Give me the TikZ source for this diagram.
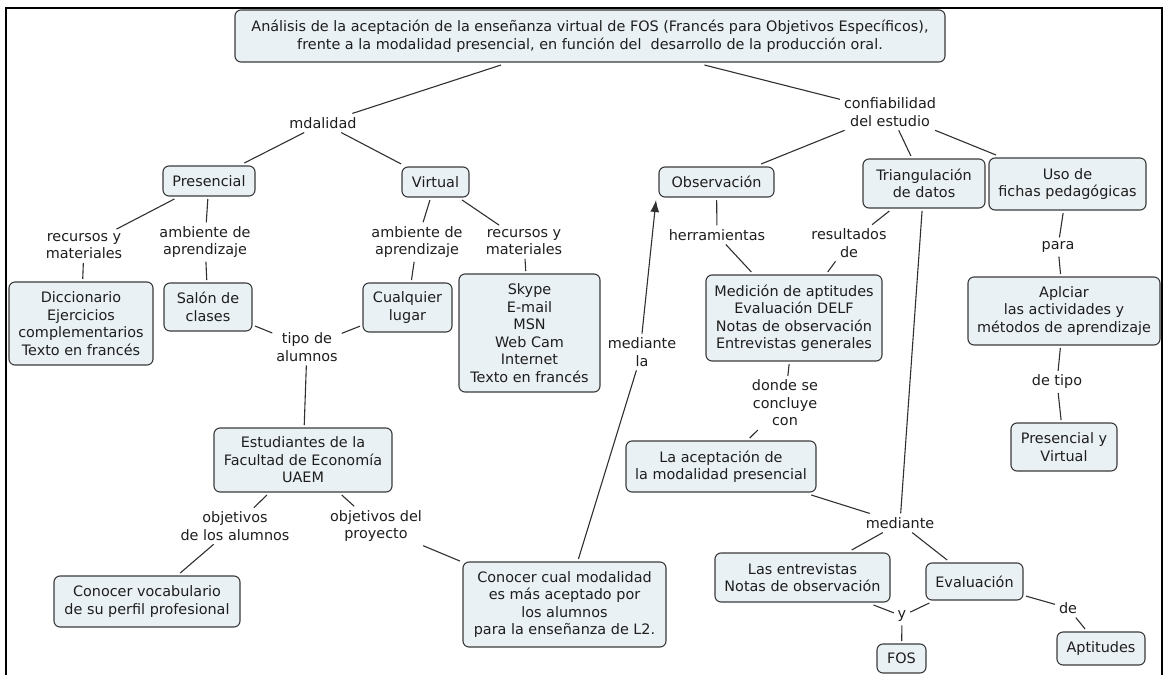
\documentclass[tikz,border=0pt]{standalone}
\usepackage{fontspec}
\setmainfont{DejaVu Sans}
\usetikzlibrary{arrows.meta}
\definecolor{boxfill}{HTML}{EAF1F4}
\definecolor{boxline}{HTML}{3A3A3A}
\definecolor{linkline}{HTML}{303030}
\definecolor{txt}{HTML}{1E1E1E}
\begin{document}
\begin{tikzpicture}[x=1pt,y=-1pt,
  every node/.style={font=\fontsize{14.4}{17.5}\selectfont, text=txt, align=center},
  concept/.style={draw=boxline, fill=boxfill, rounded corners=6pt, line width=1.1pt, inner sep=2pt, outer sep=3pt},
  phrase/.style={inner sep=3pt, outer sep=1pt},
  link/.style={draw=linkline, line width=1.1pt},
  frameline/.style={draw=black, line width=2pt}
]
\useasboundingbox (0,0) rectangle (1171,675);
\draw[frameline] (6,690) -- (6,8) -- (1162,8) -- (1162,690);

% concepts
\node[concept, minimum width=710pt, minimum height=52pt] (title) at (590,36) {Análisis de la aceptación de la enseñanza virtual de FOS (Francés para Objetivos Específicos),\\frente a la modalidad presencial, en función del \ desarrollo de la producción oral.};
\node[concept, minimum width=92pt, minimum height=30pt] (pres) at (209,181) {Presencial};
\node[concept, minimum width=67pt, minimum height=30pt] (virt) at (435.5,182) {Virtual};
\node[concept, minimum width=115pt, minimum height=30pt] (obs) at (716.5,182) {Observación};
\node[concept, minimum width=122pt, minimum height=49pt] (triang) at (924,183.5) {Triangulación\\de datos};
\node[concept, minimum width=157pt, minimum height=52pt] (uso) at (1067.5,184) {Uso de\\fichas pedagógicas};
\node[concept, minimum width=144pt, minimum height=83pt] (dicc) at (81,323.5) {Diccionario\\Ejercicios\\complementarios\\Texto en francés};
\node[concept, minimum width=88pt, minimum height=48pt] (salon) at (208,307) {Salón de\\clases};
\node[concept, minimum width=89pt, minimum height=49pt] (cualq) at (407.5,307.5) {Cualquier\\lugar};
\node[concept, minimum width=141pt, minimum height=118pt] (skype) at (529.5,333) {Skype\\E-mail\\MSN\\Web Cam\\Internet\\Texto en francés};
\node[concept, minimum width=176pt, minimum height=86pt] (medic) at (794,318) {Medición de aptitudes\\Evaluación DELF\\Notas de observación\\Entrevistas generales};
\node[concept, minimum width=192pt, minimum height=68pt] (aplc) at (1064,311) {Aplciar\\las actividades y\\métodos de aprendizaje};
\node[concept, minimum width=106pt, minimum height=48pt] (pyv) at (1064,447) {Presencial y\\Virtual};
\node[concept, minimum width=178pt, minimum height=64pt] (estud) at (303,460) {Estudiantes de la\\Facultad de Economía\\UAEM};
\node[concept, minimum width=190pt, minimum height=51pt] (acep) at (721,466.5) {La aceptación de\\la modalidad presencial};
\node[concept, minimum width=186pt, minimum height=51pt] (vocab) at (147,601.5) {Conocer vocabulario\\de su perfil profesional};
\node[concept, minimum width=203pt, minimum height=85pt] (cual) at (564.5,604.5) {Conocer cual modalidad\\es más aceptado por\\los alumnos\\para la enseñanza de L2.};
\node[concept, minimum width=175pt, minimum height=49pt] (entrev) at (802.5,577.5) {Las entrevistas\\Notas de observación};
\node[concept, minimum width=97pt, minimum height=37pt] (evalu) at (974.5,581.5) {Evaluación};
\node[concept, minimum width=49pt, minimum height=29pt] (fos) at (901.5,658.5) {FOS};
\node[concept, minimum width=88pt, minimum height=33pt] (aptit) at (1101,648.5) {Aptitudes};

% linking phrases
\node[phrase] (mdal) at (323,123) {mdalidad};
\node[phrase] (confiab) at (890,112) {confiabilidad\\del estudio};
\node[phrase] (recL) at (84,246) {recursos y\\materiales};
\node[phrase] (ambL) at (205,242) {ambiente de\\aprendizaje};
\node[phrase] (ambM) at (417,242) {ambiente de\\aprendizaje};
\node[phrase] (recM) at (524,242) {recursos y\\materiales};
\node[phrase] (tipo) at (307,347) {tipo de\\alumnos};
\node[phrase] (objA) at (235,526) {objetivos\\de los alumnos};
\node[phrase] (objP) at (376,526) {objetivos del\\proyecto};
\node[phrase] (medla) at (642,352) {mediante\\la};
\node[phrase] (herr) at (717,235) {herramientas};
\node[phrase] (result) at (849,243) {resultados\\de};
\node[phrase] (donde) at (785,403) {donde se\\concluye\\con};
\node[phrase] (medB) at (900,523) {mediante};
\node[phrase] (yy) at (902,616) {y};
\node[phrase] (de2) at (1068,608) {de};
\node[phrase] (para) at (1058,247) {para};
\node[phrase] (detipo) at (1057,382) {de tipo};

% connectors
\draw[link] (title) -- (mdal);
\draw[link] (mdal) -- (pres);
\draw[link] (mdal) -- (virt);
\draw[link] (title) -- (confiab);
\draw[link] (confiab) -- (obs);
\draw[link] (confiab) -- (triang);
\draw[link] (confiab) -- (uso);
\draw[link] (pres) -- (recL);
\draw[link] (recL) -- (dicc);
\draw[link] (pres) -- (ambL);
\draw[link] (ambL) -- (salon);
\draw[link] (virt) -- (ambM);
\draw[link] (ambM) -- (cualq);
\draw[link] (virt) -- (recM);
\draw[link] (recM) -- (skype);
\draw[link] (salon) -- (tipo);
\draw[link] (cualq) -- (tipo);
\draw[link] (tipo) -- (estud);
\draw[link] (estud) -- (objA);
\draw[link] (objA) -- (vocab);
\draw[link] (estud) -- (objP);
\draw[link] (objP) -- (cual);
\draw[link] (cual) -- (medla);
\draw[link, -{Latex[length=12pt,width=9pt]}] (medla.north) -- (obs.south west);
\draw[link] (obs) -- (herr);
\draw[link] (herr) -- (medic);
\draw[link] (triang) -- (result);
\draw[link] (result) -- (medic);
\draw[link] (medic) -- (donde);
\draw[link] (donde) -- (acep);
\draw[link] (acep) -- (medB);
\draw[link] (triang) -- (medB);
\draw[link] (medB) -- (entrev);
\draw[link] (medB) -- (evalu);
\draw[link] (entrev) -- (yy);
\draw[link] (evalu) -- (yy);
\draw[link] (yy) -- (fos);
\draw[link] (evalu) -- (de2);
\draw[link] (de2) -- (aptit);
\draw[link] (uso) -- (para);
\draw[link] (para) -- (aplc);
\draw[link] (aplc) -- (detipo);
\draw[link] (detipo) -- (pyv);
\end{tikzpicture}
\end{document}
